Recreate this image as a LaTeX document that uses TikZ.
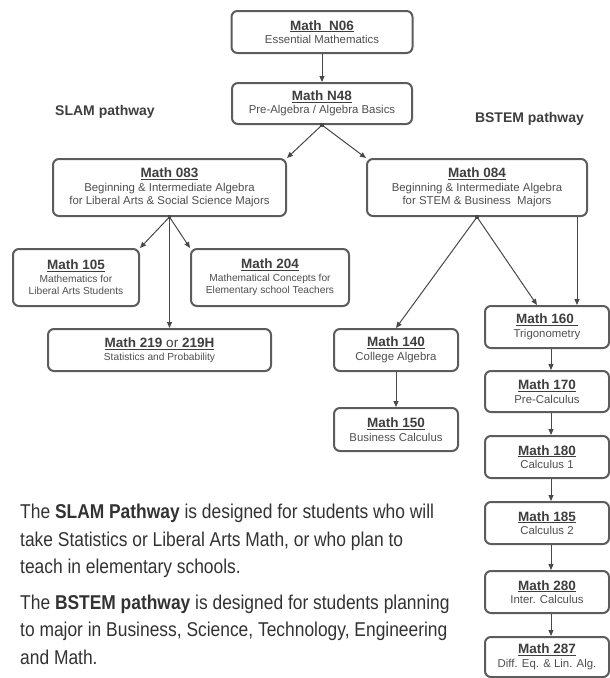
\documentclass[tikz,border=0pt]{standalone}
\usepackage{fontspec}
\setmainfont{Liberation Sans}
\newfontfamily\narrowfont[FakeStretch=0.87]{Liberation Sans}
\usepackage{tikz}
\usetikzlibrary{arrows.meta,positioning}
\definecolor{boxgray}{RGB}{92,92,92}
\definecolor{titlegray}{RGB}{62,62,62}
\definecolor{descgray}{RGB}{78,78,78}
\definecolor{linegray}{RGB}{72,72,72}
\definecolor{blurbgray}{RGB}{50,50,50}
\newcommand{\course}[2]{{\fontsize{13.5}{14}\selectfont\color{titlegray}\underline{\textbf{#1}}}\\#2}

\begin{document}
\begin{tikzpicture}[
  x=1pt, y=-1pt,
  course/.style={draw=boxgray, line width=2pt, rounded corners=6pt, align=center,
    inner sep=0pt, text=descgray, font=\fontsize{11.4}{13.5}\selectfont},
  smallcourse/.style={course, font=\fontsize{10.2}{12.5}\selectfont},
  link/.style={draw=linegray, line width=1pt, -{Triangle[length=6pt,width=5pt]}},
  junc/.style={fill=linegray, inner sep=0pt, minimum size=3.5pt},
  pathlabel/.style={text=titlegray, font=\fontsize{14}{14}\selectfont\bfseries},
  blurb/.style={anchor=base west, inner sep=0pt, text=blurbgray,
    font=\narrowfont\fontsize{20}{24}\selectfont}
]
\useasboundingbox (0,0) rectangle (610,678);

% common start
\node[course, minimum width=181pt, minimum height=42pt] (n06) at (322,32)
  {\course{Math\ \ N06}{Essential Mathematics}};
\node[course, minimum width=180pt, minimum height=41pt] (n48) at (322,103.5)
  {\course{Math N48}{Pre-Algebra / Algebra Basics}};

\node[pathlabel] (slam) at (105,112) {SLAM pathway};
\node[pathlabel] (bstem) at (529.5,119) {BSTEM pathway};

% SLAM side
\node[course, minimum width=233pt, minimum height=57pt] (m083) at (169.5,187.5)
  {\course{Math 083}{Beginning \& Intermediate Algebra\\for Liberal Arts \& Social Science Majors}};
\node[smallcourse, minimum width=126pt, minimum height=57pt] (m105) at (76,277.5)
  {\course{Math 105}{Mathematics for\\Liberal Arts Students}};
\node[smallcourse, minimum width=158pt, minimum height=57pt] (m204) at (270,277.5)
  {\course{Math 204}{Mathematical Concepts for\\Elementary school Teachers}};
\node[smallcourse, minimum width=223pt, minimum height=42pt] (m219) at (159.5,350)
  {{\fontsize{13.5}{14}\selectfont\color{titlegray}\underline{\textbf{Math 219} or \textbf{219H}}}\\Statistics and Probability};

% BSTEM side
\node[course, minimum width=220pt, minimum height=57pt] (m084) at (477,187.5)
  {\course{Math 084}{Beginning \& Intermediate Algebra\\for STEM \& Business\ \ Majors}};
\node[course, minimum width=124pt, minimum height=42pt] (m140) at (396,350)
  {\course{Math 140}{College Algebra}};
\node[course, minimum width=124pt, minimum height=43pt] (m150) at (396,429.5)
  {\course{Math 150}{Business Calculus}};
\node[course, minimum width=124pt, minimum height=42pt] (m160) at (547,327)
  {\course{Math 160\ }{Trigonometry}};
\node[course, minimum width=124pt, minimum height=41pt] (m170) at (547,391.5)
  {\course{Math 170}{Pre-Calculus}};
\node[course, minimum width=124pt, minimum height=42pt] (m180) at (547,457)
  {\course{Math 180}{Calculus 1}};
\node[course, minimum width=124pt, minimum height=42pt] (m185) at (547,523)
  {\course{Math 185}{Calculus 2}};
\node[course, minimum width=124pt, minimum height=42pt] (m280) at (547,592)
  {\course{Math 280}{Inter. Calculus}};
\node[course, minimum width=124pt, minimum height=40pt] (m287) at (547,657)
  {\course{Math 287}{Diff. Eq. \& Lin. Alg.}};

% junction marks
\node[junc] (j48) at (n48.south) {};
\node[junc] (j083) at (m083.south) {};
\node[junc] (j084) at (m084.south) {};

% connectors
\draw[link] (n06.south) -- (n48.north);
\draw[link] (j48.center) -- (m083.north east);
\draw[link] (j48.center) -- (m084.north west);
\draw[link] (j083.center) -- (m105.north east);
\draw[link] (j083.center) -- (m204.north west);
\draw[link] (j083.center) -- (j083 |- m219.north);
\draw[link] (j084.center) -- (m140.north);
\draw[link] (j084.center) -- ([xshift=-10pt]m160.north);
\draw[link] ([xshift=-11pt]m084.south east) -- ([xshift=-11pt]m084.south east |- m160.north);
\draw[link] (m140) -- (m150);
\foreach \a/\b in {m160/m170, m170/m180, m180/m185, m185/m280, m280/m287}
  \draw[link] ([xshift=4pt]\a.south) -- ([xshift=4pt]\b.north);

% pathway notes
\node[blurb] (s1) at (20,518) {The \textbf{SLAM Pathway} is designed for students who will};
\node[blurb] (s2) at (20,546) {take Statistics or Liberal Arts Math, or who plan to};
\node[blurb] (s3) at (20,573) {teach in elementary schools.};
\node[blurb] (b1) at (20,609) {The \textbf{BSTEM pathway} is designed for students planning};
\node[blurb] (b2) at (20,636) {to major in Business, Science, Technology, Engineering};
\node[blurb] (b3) at (20,664) {and Math.};
\end{tikzpicture}
\end{document}
